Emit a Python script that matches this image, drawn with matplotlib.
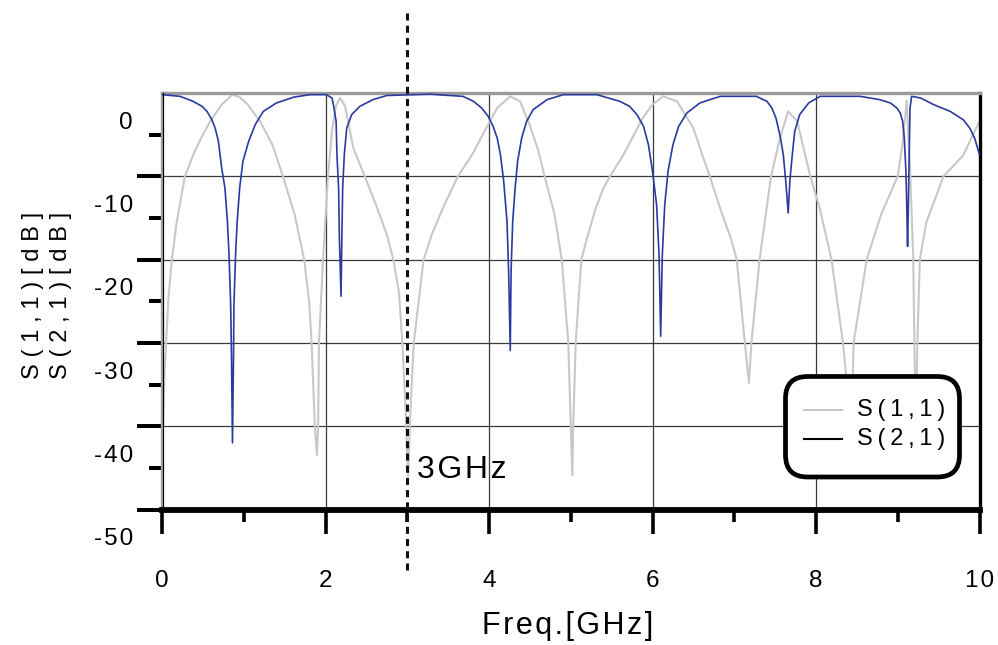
import matplotlib
matplotlib.use("Agg")
import matplotlib.pyplot as plt
from matplotlib.patches import FancyBboxPatch
from matplotlib.lines import Line2D
from matplotlib.ticker import FixedLocator

plt.rcParams['font.family'] = ['Liberation Sans', 'DejaVu Sans']

# ---- measured traces -------------------------------------------------
s11_freq = [0.00, 0.01, 0.03, 0.05, 0.08, 0.12, 0.18, 0.28, 0.40, 0.50, 0.59,
            0.73, 0.86, 0.95, 1.05, 1.20, 1.35, 1.48, 1.62, 1.74, 1.80, 1.83,
            1.87, 1.895, 1.91, 1.92, 1.97, 2.03, 2.08, 2.13, 2.18, 2.24, 2.34,
            2.48, 2.62, 2.75, 2.83, 2.90, 2.94, 2.98, 3.01, 3.04, 3.08, 3.20,
            3.30, 3.45, 3.62, 3.80, 3.95, 4.10, 4.26, 4.38, 4.50, 4.60, 4.68,
            4.80, 4.89, 4.97, 5.00, 5.02, 5.03, 5.06, 5.13, 5.20, 5.30, 5.40,
            5.48, 5.64, 5.88, 6.00, 6.13, 6.30, 6.50, 6.58, 6.70, 6.85, 6.96,
            7.03, 7.13, 7.18, 7.21, 7.31, 7.45, 7.56, 7.66, 7.77, 7.93, 8.05,
            8.19, 8.33, 8.40, 8.43, 8.46, 8.62, 8.80, 9.00, 9.06, 9.11, 9.15,
            9.19, 9.21, 9.22, 9.24, 9.27, 9.35, 9.56, 9.80, 9.92, 10.00]
s11_db = [-36.0, -35.0, -29.0, -25.0, -19.5, -15.0, -10.5, -5.0, -2.0, 0.0, 1.6,
          3.6, 4.8, 4.5, 3.6, 1.6, -1.2, -5.0, -9.5, -15.0, -20.0, -25.0,
          -35.0, -38.5, -35.0, -25.0, -15.0, -5.0, 0.5, 3.5, 4.4, 3.4, -1.6,
          -5.0, -8.5, -12.0, -15.0, -19.0, -25.0, -33.0, -41.0, -33.0, -25.0, -15.0,
          -12.0, -8.5, -5.0, -2.3, 0.5, 3.2, 4.6, 4.0, 1.1, -1.8, -5.0,
          -9.5, -15.0, -25.0, -35.0, -40.9, -35.0, -25.0, -15.0, -12.4, -9.0, -6.4,
          -5.0, -2.5, 2.0, 3.6, 4.6, 4.0, 0.8, -1.6, -5.0, -9.5, -12.5,
          -15.0, -25.0, -29.8, -25.0, -15.0, -5.0, -0.4, 2.8, 1.6, -5.0, -9.0,
          -15.0, -25.0, -32.0, -37.0, -25.0, -15.0, -9.5, -5.0, -1.0, 4.1, -4.0,
          -15.0, -30.0, -36.0, -25.0, -15.0, -10.5, -5.0, -2.5, 0.0, 1.6]

s21_freq = [0.00, 0.22, 0.38, 0.49, 0.55, 0.61, 0.65, 0.69, 0.73, 0.77, 0.80,
            0.82, 0.84, 0.85, 0.862, 0.875, 0.88, 0.90, 0.92, 0.95, 0.99, 1.06,
            1.14, 1.24, 1.40, 1.61, 1.81, 2.01, 2.08, 2.10, 2.13, 2.14, 2.16,
            2.17, 2.19, 2.20, 2.21, 2.23, 2.26, 2.32, 2.42, 2.58, 2.75, 3.28,
            3.68, 3.81, 3.91, 3.99, 4.05, 4.10, 4.14, 4.18, 4.22, 4.24, 4.26,
            4.27, 4.29, 4.32, 4.35, 4.40, 4.46, 4.54, 4.71, 4.91, 5.32, 5.60,
            5.72, 5.81, 5.89, 5.95, 6.00, 6.05, 6.08, 6.10, 6.12, 6.15, 6.19,
            6.25, 6.32, 6.42, 6.58, 6.70, 6.83, 7.27, 7.40, 7.46, 7.51, 7.56,
            7.60, 7.63, 7.66, 7.68, 7.71, 7.74, 7.80, 7.91, 8.05, 8.54, 8.78,
            8.91, 8.99, 9.03, 9.06, 9.08, 9.10, 9.11, 9.12, 9.13, 9.14, 9.15,
            9.17, 9.28, 9.44, 9.64, 9.80, 9.88, 9.94, 10.00]
s21_db = [4.8, 4.6, 4.0, 3.4, 2.8, 1.8, 0.8, -0.8, -4.0, -6.4, -10.4,
          -14.4, -20.4, -26.5, -37.0, -26.4, -20.4, -14.4, -10.4, -6.4, -3.2, -0.8,
          1.2, 2.8, 3.8, 4.5, 4.8, 4.8, 4.4, 3.4, 1.6, -2.4, -6.4,
          -12.4, -19.4, -12.4, -6.4, -2.4, 0.8, 2.4, 3.4, 4.2, 4.7, 4.85,
          4.6, 4.0, 3.2, 2.2, 1.0, -0.4, -2.4, -5.6, -10.4, -16.4, -25.9,
          -16.4, -10.4, -6.4, -3.2, -0.4, 1.6, 3.0, 4.2, 4.8, 4.8, 4.0,
          3.4, 2.4, 1.0, -1.2, -4.4, -8.4, -14.4, -24.2, -14.4, -8.4, -4.4,
          -1.2, 1.0, 2.6, 3.8, 4.2, 4.6, 4.6, 4.0, 3.2, 2.0, -0.1,
          -2.4, -5.6, -9.4, -5.6, -2.4, 0.4, 2.4, 3.8, 4.6, 4.6, 4.2,
          3.8, 3.2, 2.6, 1.6, -0.4, -4.4, -8.4, -13.4, -8.4, -2.4, 3.2,
          4.6, 4.4, 3.6, 2.8, 1.8, 0.8, -0.4, -2.4]

y_tick_values = [0, -10, -20, -30, -40, -50]
y_grid_values = [-5, -15, -25, -35, -45]
x_tick_values = [0, 2, 4, 6, 8, 10]
x_minor_values = [1, 3, 5, 7, 9]
marker_freq = 3.0
marker_label = "3GHz"
legend_labels = ["S(1,1)", "S(2,1)"]
x_label = "Freq.[GHz]"
y_label = "S(1,1)[dB]\nS(2,1)[dB]"

S11_COLOR = "#c8c8c8"
S21_COLOR = "#2b3a9e"
HAIR = "\u200a"
THIN = "\u2009"


def spaced(text, gap=HAIR):
    """Open up the letter spacing of a label."""
    return "\n".join(gap.join(line) for line in text.split("\n"))


W, H = 998, 645
fig = plt.figure(figsize=(W / 100, H / 100), dpi=100)
ax = fig.add_axes([162 / W, 1 - 509.5 / H, 817.5 / W, 416.5 / H])
ax.set_xlim(0, 10)
ax.set_ylim(-45, 5)

ax.plot(s11_freq, s11_db, color=S11_COLOR, lw=1.5, zorder=2)
ax.plot(s21_freq, s21_db, color=S21_COLOR, lw=1.2, zorder=3)

# ticks: long ones carry the grid, short ones mark the labelled levels
ax.yaxis.set_major_locator(FixedLocator(y_grid_values))
ax.yaxis.set_minor_locator(FixedLocator(y_tick_values[:-1]))
ax.xaxis.set_major_locator(FixedLocator(x_tick_values))
ax.xaxis.set_minor_locator(FixedLocator(x_minor_values))
ax.tick_params(labelbottom=False, labelleft=False, direction='out', color='black')
ax.tick_params(axis='y', which='major', length=18, width=2.9)
ax.tick_params(axis='y', which='minor', length=9.5, width=2.9)
ax.tick_params(axis='x', which='major', length=17, width=2.6)
ax.tick_params(axis='x', which='minor', length=8.5, width=2.6)
ax.grid(True, which='major', color='#3a3a3a', lw=0.9, zorder=1)
ax.set_axisbelow(True)

ax.spines['bottom'].set_linewidth(4.2)
ax.spines['bottom'].set_color('black')
ax.spines['right'].set_linewidth(2.4)
ax.spines['right'].set_color('black')
ax.spines['left'].set_linewidth(2.4)
ax.spines['left'].set_color('#a0a0a0')
ax.spines['top'].set_linewidth(2.4)
ax.spines['top'].set_color('#9a9a9a')
ax.axvline(0.012, color='black', lw=0.8, zorder=4)

# tick labels
for v in y_tick_values:
    ax.text(-0.0355, v + 1.44, spaced(str(v)), transform=ax.get_yaxis_transform(),
            ha='right', va='center', fontsize=17.5, clip_on=False)
for v in x_tick_values:
    ax.text(v, -0.1717, spaced(str(v)), transform=ax.get_xaxis_transform(),
            ha='center', va='center', fontsize=17.5, clip_on=False)

ax.set_xlabel(spaced(x_label), fontsize=22, va='center')
ax.xaxis.set_label_coords(0.496, -0.2797)
ax.set_ylabel(spaced(y_label, THIN + HAIR), fontsize=17, va='center',
              ha='center', linespacing=1.33)
ax.yaxis.set_label_coords(-0.141, 0.515)

# 3 GHz marker
ax.axvline(marker_freq, ymin=-0.145, ymax=1.192, color='#111111', lw=2.2,
           ls=(0, (2.3, 1.7)), clip_on=False, zorder=5)
ax.text(marker_freq + 0.119, -40.26, spaced(marker_label), fontsize=23,
        ha='left', va='center', zorder=5)

# legend
inch = fig.dpi_scale_trans
box = FancyBboxPatch((7.855, 1.68), 1.74, 1.005,
                     boxstyle='round,pad=0,rounding_size=0.22',
                     facecolor='white', edgecolor='black', lw=3.4,
                     transform=inch, zorder=6, clip_on=False)
ax.add_patch(box)
for label, color, ypx in zip(legend_labels, ['#c8c8c8', 'black'], [410, 439]):
    yin = (H - ypx) / 100
    ax.add_line(Line2D([8.04, 8.42], [yin, yin], color=color, lw=1.5,
                       transform=inch, zorder=7, clip_on=False))
    ax.text(8.57, yin, spaced(label, THIN), transform=inch, fontsize=17,
            ha='left', va='center', zorder=7)

fig.savefig("out.png", dpi=100)
